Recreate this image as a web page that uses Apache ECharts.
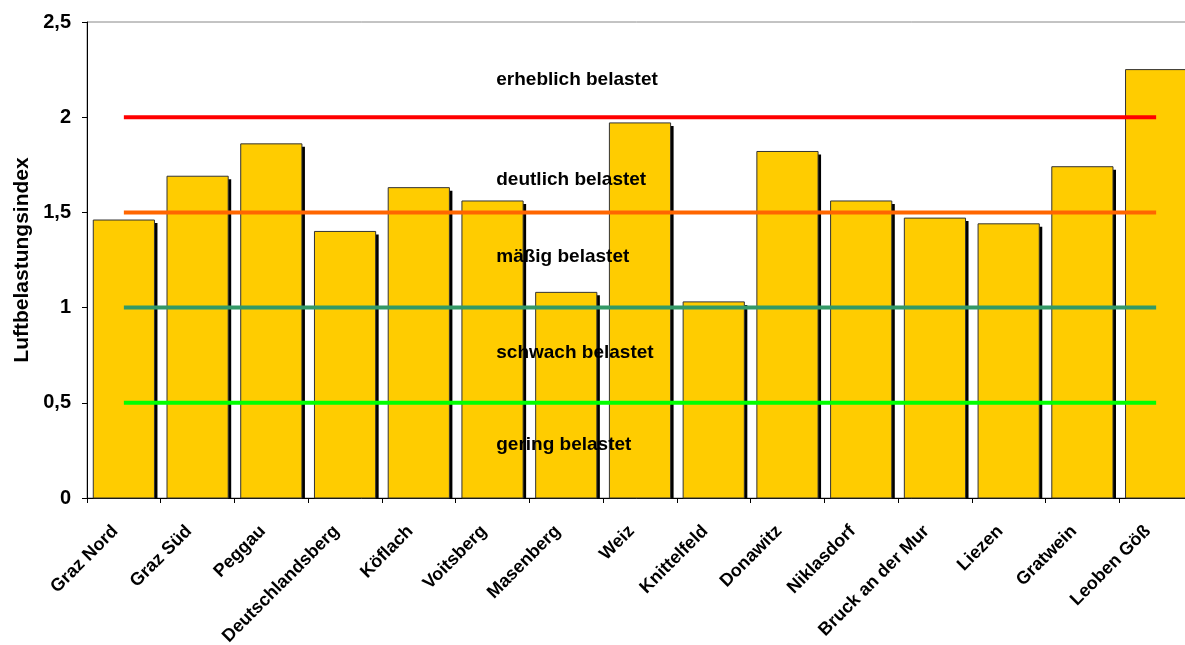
<!DOCTYPE html>
<html><head><meta charset="utf-8">
<script src="https://cdn.jsdelivr.net/npm/echarts@6/dist/echarts.min.js"></script>
<style>html,body{margin:0;padding:0;background:#fff}#c{width:1185px;height:645px}</style>
</head><body><div id="c"></div>
<script>
const categories = ['Graz Nord','Graz Süd','Peggau','Deutschlandsberg','Köflach','Voitsberg','Masenberg','Weiz','Knittelfeld','Donawitz','Niklasdorf','Bruck an der Mur','Liezen','Gratwein','Leoben Göß'];
const values = [1.46,1.69,1.86,1.40,1.63,1.56,1.08,1.97,1.03,1.82,1.56,1.47,1.44,1.74,2.25];
const thresholds = [2, 1.5, 1, 0.5];
const thresholdColors = ['#FF0000','#FF6600','#339966','#00FF00'];
const zoneLabels = ['erheblich belastet','deutlich belastet','mäßig belastet','schwach belastet','gering belastet'];
const zoneLabelValues = [2.195, 1.67, 1.265, 0.765, 0.28];
const yTicks = [0, 0.5, 1, 1.5, 2, 2.5];

const chart = echarts.init(document.getElementById('c'));
const font = 'Liberation Sans, Arial, sans-serif';
const series = [{
  type: 'custom',
  data: values.map((v, i) => [i, v]),
  z: 2,
  renderItem: function (params, api) {
    const idx = api.value(0), v = api.value(1);
    const top = api.coord([idx, v]);
    const base = api.coord([idx, 0]);
    const band = api.size([1, 0])[0];
    const w = band * 0.83;
    const x = top[0] - w / 2;
    const h = base[1] - top[1];
    return {
      type: 'group',
      children: [
        { type: 'rect', shape: { x: x + 3, y: top[1] + 3, width: w, height: h - 3 },
          style: { fill: '#000' } },
        { type: 'rect', shape: { x: x, y: top[1], width: w, height: h },
          style: { fill: '#FFCC00', stroke: '#333', lineWidth: 1 } }
      ]
    };
  }
}];
thresholds.forEach((t, i) => {
  series.push({ type: 'line', data: categories.map(() => t), symbol: 'none',
    lineStyle: { color: thresholdColors[i], width: 4 }, z: 5, silent: true });
});
series.push({
  type: 'scatter', data: zoneLabelValues.map((v, i) => [6, v, zoneLabels[i]]),
  symbolSize: 0, z: 10, silent: true,
  itemStyle: { opacity: 1 },
  label: { show: true, position: 'right', distance: 0, offset: [-70, 0],
    formatter: p => p.data[2], color: '#000', opacity: 1, textBorderWidth: 0, fontWeight: 'bold', fontSize: 19, fontFamily: font }
});
chart.setOption({
  animation: false,
  grid: { left: 87, top: 22, width: 1106, height: 476, show: true, borderColor: '#888', borderWidth: 1,
    outerBoundsMode: 'none', containLabel: false },
  xAxis: { type: 'category', data: categories,
    axisLine: { lineStyle: { color: '#000', width: 1 } },
    axisTick: { show: true, length: 5, lineStyle: { color: '#000' } },
    axisLabel: { rotate: 45, interval: 0, color: '#000', fontWeight: 'bold', fontSize: 18, fontFamily: font, margin: 22,
      padding: [0, 12, 0, 0] } },
  yAxis: { type: 'value', min: 0, max: 2.5, interval: 0.5,
    name: 'Luftbelastungsindex', nameLocation: 'middle', nameGap: 50,
    nameTextStyle: { color: '#000', fontWeight: 'bold', fontSize: 21, fontFamily: font },
    axisLine: { show: true, lineStyle: { color: '#000', width: 1 } },
    axisTick: { show: true, length: 5, lineStyle: { color: '#000' } },
    splitLine: { show: false },
    axisLabel: { color: '#000', fontWeight: 'bold', fontSize: 20, fontFamily: font, margin: 16,
      formatter: v => String(v).replace('.', ',') } },
  series: series
});
</script></body></html>
